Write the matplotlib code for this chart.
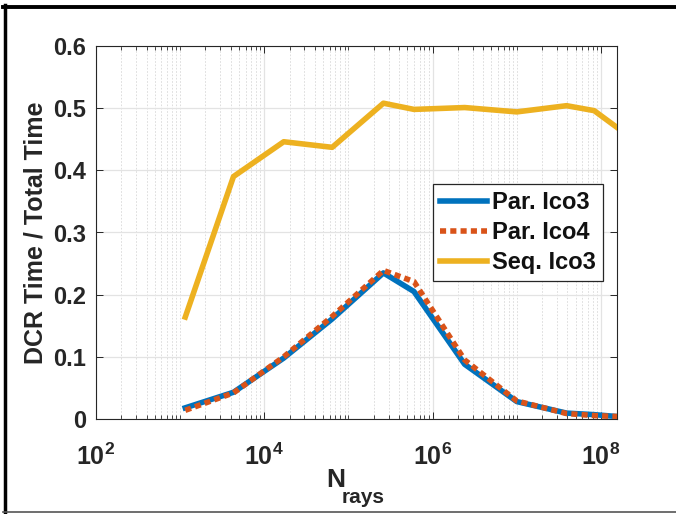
import matplotlib
matplotlib.use("Agg")
import matplotlib.pyplot as plt
from matplotlib.lines import Line2D
from matplotlib.ticker import LogLocator, NullFormatter, FixedLocator

plt.rcParams['font.family'] = ['Liberation Sans', 'DejaVu Sans']
plt.rcParams['font.weight'] = 'bold'
plt.rcParams['mathtext.fontset'] = 'custom'
plt.rcParams['mathtext.rm'] = 'Liberation Sans:bold'
plt.rcParams['mathtext.bf'] = 'Liberation Sans:bold'
plt.rcParams['mathtext.it'] = 'Liberation Sans:bold'

# number of rays
n_rays = [1.15e3, 4.3e3, 1.7e4, 6.4e4, 2.6e5, 6.0e5, 2.4e6, 1.0e7, 3.9e7, 8.3e7, 1.55e8]
# DCR time / total time
par_ico3 = [0.018, 0.043, 0.098, 0.161, 0.235, 0.205, 0.088, 0.028, 0.0095, 0.007, 0.004]
par_ico4 = [0.014, 0.042, 0.100, 0.165, 0.239, 0.221, 0.095, 0.029, 0.0088, 0.0055, 0.004]
seq_ico3 = [0.164, 0.390, 0.446, 0.437, 0.508, 0.498, 0.501, 0.494, 0.504, 0.496, 0.469]

labels = ["Par. Ico3", "Par. Ico4", "Seq. Ico3"]
colors = ["#0072BD", "#D95319", "#EDB120"]

fig = plt.figure(figsize=(6.76, 5.14), dpi=100)
ax = fig.add_axes([96/676, 1 - 419/514, (617 - 96)/676, (419 - 46)/514])

ax.plot(n_rays, par_ico3, color=colors[0], lw=4, label=labels[0], zorder=3)
ax.plot(n_rays, par_ico4, color=colors[1], lw=4, linestyle=(0, (1.1, 0.75)),
        dash_capstyle='butt', label=labels[1], zorder=4)
ax.plot(n_rays, seq_ico3, color=colors[2], lw=4, label=labels[2], zorder=3)

ax.set_xscale('log')
ax.set_xlim(100, n_rays[-1])
ax.set_ylim(0, 0.6)

ax.xaxis.set_major_locator(FixedLocator([1e2, 1e4, 1e6, 1e8]))
ax.set_xticklabels([r'$\mathbf{10^{2}}$', r'$\mathbf{10^{4}}$', r'$\mathbf{10^{6}}$', r'$\mathbf{10^{8}}$'])
minors = LogLocator(base=10, subs=[1, 2, 3, 4, 5, 6, 7, 8, 9], numticks=50)
ax.xaxis.set_minor_locator(minors)
ax.xaxis.set_minor_formatter(NullFormatter())
ax.set_yticks([0, 0.1, 0.2, 0.3, 0.4, 0.5, 0.6])
ax.set_yticklabels(['0', '0.1', '0.2', '0.3', '0.4', '0.5', '0.6'])

ax.tick_params(which='both', direction='in', top=True, right=True, colors='#262626',
               labelcolor='#262626', labelsize=17)
ax.tick_params(which='major', length=5, width=0.7)
ax.tick_params(which='minor', length=3, width=0.6)
ax.tick_params(axis='x', which='major', pad=18, labelsize=18)
ax.tick_params(axis='y', which='major', pad=7)

ax.grid(True, which='major', color='#e3e3e3', lw=0.9, linestyle='-')
ax.grid(True, which='minor', axis='x', color='#d8d8d8', lw=0.6, linestyle=(0, (2, 2)))
ax.set_axisbelow(True)
for s in ax.spines.values():
    s.set_color('#262626')
    s.set_linewidth(0.8)

ax.set_ylabel('DCR Time / Total Time', fontsize=18, fontweight='bold', color='#262626', labelpad=4)

# x label: N with a large subscript, as in the original
fig.text(326/676, 1 - 487/514, 'N', fontsize=19, fontweight='bold', color='#262626',
         ha='left', va='baseline')
fig.text(342/676, 1 - 503/514, 'rays', fontsize=15, fontweight='bold', color='#262626',
         ha='left', va='baseline')

leg = ax.legend(loc='upper right', bbox_to_anchor=(0.973, 0.630), fontsize=17,
                frameon=True, fancybox=False, framealpha=1, edgecolor='#262626',
                handlelength=2.0, handletextpad=0.2, borderpad=0.3, labelspacing=0.3,
                borderaxespad=0)
leg.get_frame().set_linewidth(0.9)
for t in leg.get_texts():
    t.set_color('#111111')

# figure border like the screenshot
fig.add_artist(Line2D([4.5/676, 4.5/676], [0, 1 - 5/514], color='black', lw=2.5))
fig.add_artist(Line2D([3/676, 1], [1 - 7/514, 1 - 7/514], color='black', lw=2.8))
fig.add_artist(Line2D([3/676, 1], [1 - 511.5/514, 1 - 511.5/514], color='#555555', lw=1.2))

fig.savefig('out.png', dpi=100)
